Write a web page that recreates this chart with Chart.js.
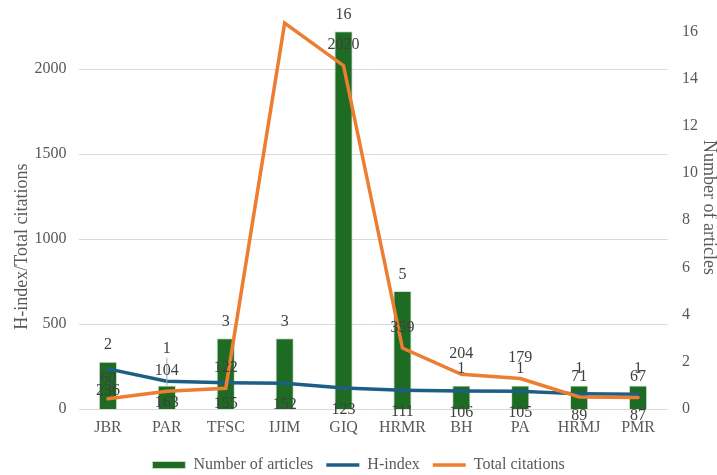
<!DOCTYPE html>
<html>
<head>
<meta charset="utf-8">
<script src="https://cdn.jsdelivr.net/npm/chart.js@4/dist/chart.umd.min.js"></script>
<style>
  html, body { margin: 0; padding: 0; background: #fff; overflow: hidden; width: 717px; height: 475px; }
  #wrap { position: absolute; left: 0; top: -40px; width: 717px; height: 523px; }
</style>
</head>
<body>
<div id="wrap"><canvas id="c" width="717" height="523"></canvas></div>
<script>
// Journals and their figures
const journals = ['JBR', 'PAR', 'TFSC', 'IJIM', 'GIQ', 'HRMR', 'BH', 'PA', 'HRMJ', 'PMR'];
const articleCounts = [2, 1, 3, 3, 16, 5, 1, 1, 1, 1];
const hIndex = [236, 163, 155, 152, 123, 111, 106, 105, 89, 87];
const totalCitations = [60, 104, 122, 2270, 2020, 359, 204, 179, 71, 67];

// Axis tick values
const leftTicks = [0, 500, 1000, 1500, 2000, 2500];
const rightTicks = [0, 2, 4, 6, 8, 10, 12, 14, 16, 18];

// Axis titles
const leftTitle = 'H-index/Total citations';
const rightTitle = 'Number of articles';

const SERIF = "'Liberation Serif', 'Times New Roman', serif";
Chart.defaults.font.family = SERIF;
Chart.defaults.font.size = 16;
Chart.defaults.color = '#595959';

// Value labels next to each bar / line point
const valueLabels = {
  id: 'valueLabels',
  afterDatasetsDraw(chart) {
    const ctx = chart.ctx;
    ctx.save();
    ctx.font = '16px ' + SERIF;
    ctx.textAlign = 'center';
    ctx.textBaseline = 'middle';
    chart.data.datasets.forEach((ds, d) => {
      const meta = chart.getDatasetMeta(d);
      const cfg = ds.valueLabel || {};
      meta.data.forEach((el, i) => {
        const cat = chart.data.labels[i];
        if ((cfg.skip || []).includes(cat)) return;
        const lift = (cfg.lift && cfg.lift[cat]) || 0;
        const y = el.y + cfg.offset - lift;
        if (lift) {
          // leader line back to the mark
          ctx.strokeStyle = '#A6A6A6';
          ctx.lineWidth = 1;
          ctx.beginPath();
          ctx.moveTo(el.x, y + 9);
          ctx.lineTo(el.x, el.y);
          ctx.stroke();
        }
        ctx.fillStyle = '#404040';
        ctx.fillText(String(ds.data[i]), el.x, y);
      });
    });
    ctx.restore();
  }
};

// Rotated titles beside the two value axes
const axisTitles = {
  id: 'axisTitles',
  afterDraw(chart) {
    const { ctx, chartArea } = chart;
    const mid = (chartArea.top + chartArea.bottom) / 2;
    ctx.save();
    ctx.font = '18px ' + SERIF;
    ctx.fillStyle = '#595959';
    ctx.textAlign = 'center';
    ctx.textBaseline = 'middle';
    ctx.save();
    ctx.translate(chartArea.left - 56, mid + 50);
    ctx.rotate(-Math.PI / 2);
    ctx.fillText(leftTitle, 0, 0);
    ctx.restore();
    ctx.save();
    ctx.translate(chartArea.right + 41, mid + 11);
    ctx.rotate(Math.PI / 2);
    ctx.fillText(rightTitle, 0, 0);
    ctx.restore();
    ctx.restore();
  }
};

new Chart(document.getElementById('c'), {
  data: {
    labels: journals,
    datasets: [
      {
        type: 'bar',
        label: 'Number of articles',
        data: articleCounts,
        yAxisID: 'y1',
        backgroundColor: '#1E6B24',
        borderColor: 'rgba(200,225,200,0.9)',
        borderWidth: 1,
        categoryPercentage: 1,
        barPercentage: 0.31,
        pointStyle: 'rect',
        order: 2,
        valueLabel: { offset: -16.5, lift: { PAR: 20 } }
      },
      {
        type: 'line',
        label: 'H-index',
        data: hIndex,
        yAxisID: 'y',
        borderColor: '#1C5E86',
        backgroundColor: '#1C5E86',
        borderWidth: 3.5,
        pointRadius: 0,
        tension: 0,
        pointStyle: 'line',
        borderCapStyle: 'round',
        order: 1,
        valueLabel: { offset: 21.5 }
      },
      {
        type: 'line',
        label: 'Total citations',
        data: totalCitations,
        yAxisID: 'y',
        borderColor: '#ED7D31',
        backgroundColor: '#ED7D31',
        borderWidth: 3.5,
        pointRadius: 0,
        tension: 0,
        pointStyle: 'line',
        borderCapStyle: 'round',
        order: 0,
        valueLabel: { offset: -20.5, skip: ['IJIM'] }
      }
    ]
  },
  options: {
    responsive: false,
    animation: false,
    devicePixelRatio: 1,
    layout: { padding: { top: 24, left: 0, right: 0, bottom: 0 } },
    plugins: {
      tooltip: { enabled: false },
      legend: {
        position: 'bottom',
        labels: {
          usePointStyle: true,
          pointStyleWidth: 33,
          boxHeight: 7,
          padding: 13,
          color: '#595959',
          font: { size: 16, family: SERIF },
          sort: (a, b) => a.datasetIndex - b.datasetIndex
        }
      }
    },
    scales: {
      x: {
        offset: true,
        grid: { display: false, drawTicks: false },
        border: { display: false },
        ticks: { padding: 9, color: '#595959', maxRotation: 0, autoSkip: false },
        afterFit(s) { s.height = 35; }
      },
      y: {
        position: 'left',
        min: 0,
        max: 2500,
        afterBuildTicks(s) { s.ticks = leftTicks.map(v => ({ value: v })); },
        grid: { color: '#D9D9D9', lineWidth: 1, drawTicks: false },
        border: { display: false },
        ticks: { padding: 12, color: '#595959', callback: v => String(v) },
        afterFit(s) { s.width = 78.5; }
      },
      y1: {
        position: 'right',
        min: 0,
        max: 18,
        afterBuildTicks(s) { s.ticks = rightTicks.map(v => ({ value: v })); },
        grid: { display: false, drawTicks: false },
        border: { display: false },
        ticks: { padding: 14.5, color: '#595959', callback: v => String(v) },
        afterFit(s) { s.width = 49.5; }
      }
    }
  },
  plugins: [valueLabels, axisTitles]
});
</script>
</body>
</html>
